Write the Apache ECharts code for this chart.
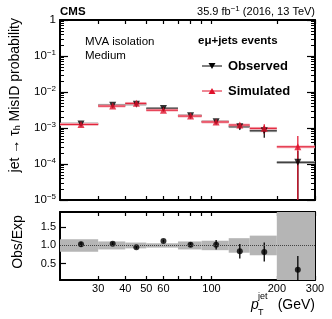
<!DOCTYPE html>
<html><head><meta charset="utf-8">
<script src="https://cdn.jsdelivr.net/npm/echarts@6/dist/echarts.min.js"></script>
<style>html,body{margin:0;padding:0;background:#fff}#c{width:332px;height:319px}</style>
</head><body><div id="c"></div>
<script>
// ---- data ----
const binLo = [20, 30, 40, 50, 70, 90, 120, 150, 200];
const binHi = [30, 40, 50, 70, 90, 120, 150, 200, 300];
const binCenter = [25, 35, 45, 60, 80, 105, 135, 175, 250];
const observed = [1.3e-3, 4.27e-3, 4.6e-3, 3.5e-3, 2.2e-3, 1.5e-3, 1.09e-3, 8.4e-4, 1.11e-4];
const observedErr = [0.1e-3, 0.3e-3, 0.25e-3, 0.4e-3, 0.15e-3, 0.12e-3, 0.2e-3, 0.3e-3, 1.2e-4];
const simulated = [1.26e-3, 4.07e-3, 4.84e-3, 3.13e-3, 2.15e-3, 1.47e-3, 1.21e-3, 9.8e-4, 3.0e-4];
const simulatedErr = [0.08e-3, 0.2e-3, 0.25e-3, 0.15e-3, 0.12e-3, 0.1e-3, 0.12e-3, 0.3e-3, 3.0e-4];
const ratio = [1.03, 1.05, 0.95, 1.12, 1.02, 1.02, 0.84, 0.82, 0.33];
const ratioErr = [0.07, 0.04, 0.04, 0.04, 0.06, 0.13, 0.2, 0.26, 0.38];
const ratioBand = [0.17, 0.11, 0.08, 0.06, 0.11, 0.13, 0.2, 0.27, 2.0];
const xTickLabels = [30, 40, 50, 60, 100, 200, 300];
const xTickMarks = [30, 40, 50, 60, 70, 80, 90, 100, 200, 300];
const ratioTicks = [0.5, 1.0, 1.5];

const FONT = '"Liberation Sans", Arial, sans-serif';
const RED = '#e0102a';
const chart = echarts.init(document.getElementById('c'), null, {renderer: 'canvas'});

function logFmt(v) {
  const e = Math.round(Math.log10(v));
  if (e === 0) return '1';
  return '10{s|' + (e < 0 ? '\u2212' : '') + Math.abs(e) + '}';
}

function barsData(vals, errs) {
  return binLo.map((lo, i) => [lo, binHi[i], binCenter[i], vals[i], errs[i]]);
}

function barsRender(lineColor, bandColor, errColor, bandW) {
  return function (params, api) {
    const lo = api.value(0), hi = api.value(1), c = api.value(2), v = api.value(3), e = api.value(4);
    const a = api.coord([lo, v]), b = api.coord([hi, v]);
    const t = api.coord([c, v + e]), d = api.coord([c, Math.max(v - e, 1e-8)]);
    return {
      type: 'group',
      children: [
        {type: 'line', shape: {x1: a[0], y1: a[1], x2: b[0], y2: b[1]}, style: {stroke: bandColor, lineWidth: bandW}},
        {type: 'line', shape: {x1: a[0], y1: a[1], x2: b[0], y2: b[1]}, style: {stroke: lineColor, lineWidth: 1}},
        {type: 'line', shape: {x1: t[0], y1: t[1], x2: d[0], y2: d[1]}, style: {stroke: errColor, lineWidth: 1.2}}
      ]
    };
  };
}

const axLine = {show: true, lineStyle: {color: '#000', width: 2}};
const tickStyle = {color: '#000', width: 1.2};

function xAx(grid, pos, labels) {
  return {
    gridIndex: grid, type: 'log', logBase: 10, min: 20, max: 300, position: pos,
    axisLine: axLine,
    axisTick: {show: true, inside: true, length: 4, customValues: xTickMarks, lineStyle: tickStyle},
    axisLabel: labels ? {show: true, customValues: xTickLabels, fontSize: 11, color: '#000', fontFamily: FONT, margin: 3} : {show: false},
    splitLine: {show: false}
  };
}
function yLog(pos, labels) {
  return {
    gridIndex: 0, type: 'log', logBase: 10, min: 1e-5, max: 1, position: pos,
    axisLine: axLine,
    axisTick: {show: true, inside: true, length: 8, lineStyle: tickStyle},
    minorTick: {show: true, splitNumber: 9, length: 4, lineStyle: {color: '#000', width: 1}},
    splitLine: {show: false}, minorSplitLine: {show: false},
    axisLabel: labels ? {
      show: true, formatter: logFmt, fontSize: 11.5, color: '#000', fontFamily: FONT, margin: 4,
      rich: {s: {fontSize: 8, verticalAlign: 'top', padding: [0, 0, 7, 0], fontFamily: FONT, color: '#000'}}
    } : {show: false}
  };
}
function yRat(pos, labels) {
  return {
    gridIndex: 1, type: 'value', min: 0.05, max: 1.92, position: pos,
    axisLine: axLine,
    axisTick: {show: true, inside: true, length: 6, customValues: ratioTicks, lineStyle: tickStyle},
    splitLine: {show: false},
    axisLabel: labels ? {show: true, customValues: ratioTicks, formatter: v => v.toFixed(1), fontSize: 11, color: '#000', fontFamily: FONT, margin: 4} : {show: false}
  };
}

const option = {
  animation: false,
  backgroundColor: '#fff',
  grid: [
    {left: 60, right: 17, top: 20, height: 180},
    {left: 60, right: 17, top: 212, height: 68}
  ],
  xAxis: [xAx(0, 'bottom', false), xAx(0, 'top', false), xAx(1, 'bottom', true), xAx(1, 'top', false)],
  yAxis: [yLog('left', true), yLog('right', false), yRat('left', true), yRat('right', false)],
  series: [
    {
      type: 'custom', xAxisIndex: 0, yAxisIndex: 0, clip: true,
      encode: {x: [0, 1, 2], y: 3},
      data: barsData(observed, observedErr),
      renderItem: barsRender('#333', '#a0a0a0', '#000', 2.8), z: 2
    },
    {
      type: 'custom', xAxisIndex: 0, yAxisIndex: 0, clip: true,
      encode: {x: [0, 1, 2], y: 3},
      data: barsData(simulated, simulatedErr),
      renderItem: barsRender(RED, '#f6b0b9', RED, 2.8), z: 3
    },
    {
      type: 'scatter', xAxisIndex: 0, yAxisIndex: 0, symbol: 'triangle', symbolRotate: 180, symbolSize: 7,
      itemStyle: {color: '#000'}, z: 4,
      data: binCenter.map((c, i) => [c, observed[i]])
    },
    {
      type: 'scatter', xAxisIndex: 0, yAxisIndex: 0, symbol: 'triangle', symbolSize: 7,
      itemStyle: {color: RED}, z: 5,
      data: binCenter.map((c, i) => [c, simulated[i]])
    },
    {
      type: 'custom', xAxisIndex: 2, yAxisIndex: 2, clip: true,
      encode: {x: [0, 1], y: 2},
      data: binLo.map((lo, i) => [lo, binHi[i], 1, ratioBand[i]]),
      renderItem: function (params, api) {
        const lo = api.value(0), hi = api.value(1), c = api.value(2), b = api.value(3);
        const p1 = api.coord([lo, c + b]), p2 = api.coord([hi, c - b]);
        return {type: 'rect', shape: {x: p1[0], y: p1[1], width: p2[0] - p1[0], height: p2[1] - p1[1]}, style: {fill: '#b5b5b5'}};
      },
      markLine: {
        silent: true, symbol: 'none', label: {show: false},
        lineStyle: {color: '#444', type: 'dotted', width: 1},
        data: [{yAxis: 1}]
      },
      z: 1
    },
    {
      type: 'custom', xAxisIndex: 2, yAxisIndex: 2, clip: true,
      encode: {x: 0, y: 1},
      data: binCenter.map((c, i) => [c, ratio[i], ratioErr[i]]),
      renderItem: function (params, api) {
        const c = api.value(0), r = api.value(1), e = api.value(2);
        const t = api.coord([c, r + e]), d = api.coord([c, r - e]);
        return {type: 'line', shape: {x1: t[0], y1: t[1], x2: d[0], y2: d[1]}, style: {stroke: '#000', lineWidth: 1.3}};
      },
      z: 3
    },
    {
      type: 'scatter', xAxisIndex: 2, yAxisIndex: 2, symbol: 'circle', symbolSize: 6,
      itemStyle: {color: '#000'}, z: 4,
      data: binCenter.map((c, i) => [c, ratio[i]])
    }
  ],
  graphic: [
    {type: 'text', x: 60, y: 12, style: {text: 'CMS', font: 'bold 11.5px ' + FONT, fill: '#000', align: 'left', verticalAlign: 'middle'}},
    {type: 'text', x: 315, y: 12, style: {text: '35.9 fb{s|\u22121} (2016, 13 TeV)', font: '11px ' + FONT, fill: '#000', align: 'right', verticalAlign: 'middle',
      rich: {s: {fontSize: 8, verticalAlign: 'top', padding: [0, 0, 6, 0], fontFamily: FONT, fill: '#000'}}}},
    {type: 'text', x: 85, y: 42, style: {text: 'MVA isolation', font: '11.5px ' + FONT, fill: '#000', align: 'left', verticalAlign: 'middle'}},
    {type: 'text', x: 85, y: 56, style: {text: 'Medium', font: '11.5px ' + FONT, fill: '#000', align: 'left', verticalAlign: 'middle'}},
    {type: 'text', x: 198, y: 41, style: {text: 'e\u03bc+jets events', font: 'bold 11.5px ' + FONT, fill: '#000', align: 'left', verticalAlign: 'middle'}},
    {type: 'line', shape: {x1: 202, y1: 66, x2: 222, y2: 66}, style: {stroke: '#000', lineWidth: 1}},
    {type: 'polygon', shape: {points: [[208.5, 63], [215.5, 63], [212, 69]]}, style: {fill: '#000'}},
    {type: 'text', x: 228, y: 66, style: {text: 'Observed', font: 'bold 13px ' + FONT, fill: '#000', align: 'left', verticalAlign: 'middle'}},
    {type: 'line', shape: {x1: 202, y1: 91, x2: 222, y2: 91}, style: {stroke: RED, lineWidth: 1}},
    {type: 'polygon', shape: {points: [[208.5, 94], [215.5, 94], [212, 88]]}, style: {fill: RED}},
    {type: 'text', x: 228, y: 91, style: {text: 'Simulated', font: 'bold 13px ' + FONT, fill: '#000', align: 'left', verticalAlign: 'middle'}},
    {type: 'text', x: 15, y: 18, rotation: Math.PI / 2,
      style: {text: 'jet \u2192 \u03c4{b|h} MisID probability', font: '14px ' + FONT, fill: '#000', align: 'right', verticalAlign: 'middle',
        rich: {b: {fontSize: 9, verticalAlign: 'bottom', padding: [6, 0, 0, 0], fontFamily: FONT, fill: '#000'}}}},
    {type: 'text', x: 18, y: 242, rotation: Math.PI / 2,
      style: {text: 'Obs/Exp', font: '14px ' + FONT, fill: '#000', align: 'center', verticalAlign: 'middle'}},
    {type: 'text', x: 251, y: 305, style: {text: 'p', font: 'italic 14px ' + FONT, fill: '#000', align: 'left', verticalAlign: 'middle'}},
    {type: 'text', x: 258, y: 297, style: {text: 'jet', font: '9px ' + FONT, fill: '#000', align: 'left', verticalAlign: 'middle'}},
    {type: 'text', x: 258, y: 313, style: {text: 'T', font: '9px ' + FONT, fill: '#000', align: 'left', verticalAlign: 'middle'}},
    {type: 'text', x: 315, y: 305, style: {text: '(GeV)', font: '14px ' + FONT, fill: '#000', align: 'right', verticalAlign: 'middle'}}
  ]
};
chart.setOption(option);
</script>
</body></html>
